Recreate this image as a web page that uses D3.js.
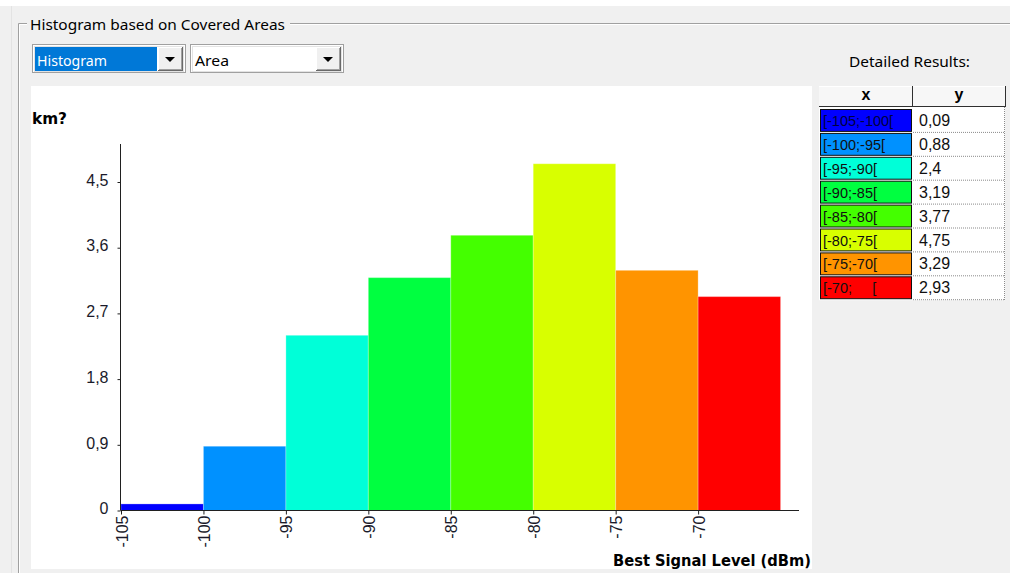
<!DOCTYPE html>
<html><head><meta charset="utf-8">
<script src="https://cdn.jsdelivr.net/npm/d3@7"></script>
<style>html,body{margin:0;padding:0;background:#f0f0f0;overflow:hidden}svg{display:block}</style>
</head><body>
<svg id="c" width="1010" height="573"></svg>
<script>
const binStarts = [-105, -100, -95, -90, -85, -80, -75, -70];
const binLabels = ["[-105;-100[", "[-100;-95[", "[-95;-90[", "[-90;-85[", "[-85;-80[", "[-80;-75[", "[-75;-70[", "[-70;     ["];
const values = [0.09, 0.88, 2.4, 3.19, 3.77, 4.75, 3.29, 2.93];
const valueLabels = ["0,09", "0,88", "2,4", "3,19", "3,77", "4,75", "3,29", "2,93"];
const colors = ["#0000ff", "#0091ff", "#00ffd8", "#00ff40", "#44ff00", "#d8ff00", "#ff9400", "#ff0000"];
const yTicks = [0, 0.9, 1.8, 2.7, 3.6, 4.5];
const xTicks = [-105, -100, -95, -90, -85, -80, -75, -70];
const binWidth = 5;

const svg = d3.select("#c");
const UI = "'Noto Sans','Open Sans',sans-serif";
const SANS = "'Liberation Sans',Arial,sans-serif";

// background
svg.append("rect").attr("x",0).attr("y",0).attr("width",1010).attr("height",573).attr("fill","#f0f0f0");
svg.append("rect").attr("x",0).attr("y",0).attr("width",1010).attr("height",6).attr("fill","#ffffff");

// group box (etched)
const gb = svg.append("g");
gb.append("path").attr("d","M18.5,573 V23.5 H27 M290,23.5 H1010").attr("fill","none").attr("stroke","#a0a0a0");
gb.append("path").attr("d","M19.5,573 V24.5 H27 M290,24.5 H1010").attr("fill","none").attr("stroke","#ffffff");
gb.append("line").attr("x1",11.5).attr("x2",11.5).attr("y1",6).attr("y2",573).attr("stroke","#e3e3e3");
svg.append("text").attr("x",30).attr("y",30).attr("font-family",UI).attr("font-size",15)
  .attr("fill","#000").attr("textLength",255).attr("lengthAdjust","spacingAndGlyphs")
  .text("Histogram based on Covered Areas");

// combo boxes
function combo(x, label, selected, textLen) {
  const g = svg.append("g");
  g.append("rect").attr("x",x).attr("y",44).attr("width",154).attr("height",29).attr("fill","#a0a0a0");
  g.append("rect").attr("x",x+1).attr("y",45).attr("width",152).attr("height",27).attr("fill","#ffffff");
  g.append("rect").attr("x",x+2).attr("y",46).attr("width",150).attr("height",26).attr("fill","#e3e3e3");
  g.append("rect").attr("x",x+3).attr("y",47).attr("width",148).attr("height",24).attr("fill","#ffffff");
  if (selected) g.append("rect").attr("x",x+3).attr("y",47).attr("width",122).attr("height",24).attr("fill","#0078d7");
  g.append("rect").attr("x",x+126).attr("y",47).attr("width",25).attr("height",24).attr("fill","#696969");
  g.append("rect").attr("x",x+126).attr("y",47).attr("width",24).attr("height",23).attr("fill","#ffffff");
  g.append("rect").attr("x",x+127).attr("y",48).attr("width",23).attr("height",22).attr("fill","#a0a0a0");
  g.append("rect").attr("x",x+127).attr("y",48).attr("width",22).attr("height",21).attr("fill","#f0f0f0");
  const cx = x+138;
  g.append("path").attr("d",`M${cx-5},57 H${cx+5} L${cx},62 Z`).attr("fill","#000");
  g.append("text").attr("x",x+5).attr("y",66).attr("font-family",UI).attr("font-size",15)
    .attr("fill", selected ? "#ffffff" : "#000").attr("textLength",textLen).attr("lengthAdjust","spacingAndGlyphs").text(label);
}
combo(32, "Histogram", true, 70);
combo(190, "Area", false, 34);

// chart panel
svg.append("rect").attr("x",31).attr("y",86).attr("width",781).attr("height",483).attr("fill","#ffffff");

const x = d3.scaleLinear().domain([-105, -63.9]).range([121, 798.7]);
const y = d3.scaleLinear().domain([0, 5]).range([510.5, 145.5]);

// bars
svg.append("g").selectAll("rect").data(values).join("rect")
  .attr("x",(d,i)=>x(binStarts[i]))
  .attr("width",(d,i)=>x(binStarts[i]+binWidth)-x(binStarts[i]))
  .attr("y",d=>y(d))
  .attr("height",d=>y(0)-y(d))
  .attr("fill",(d,i)=>colors[i])
  .attr("stroke","rgba(255,255,255,0.25)").attr("stroke-width",1);

// y axis
const yAxis = d3.axisLeft(y).tickValues(yTicks).tickSize(3).tickPadding(9)
  .tickFormat(d=>d3.format(".1~f")(d).replace(".",","));
const gy = svg.append("g").attr("transform","translate(120.5,0)").call(yAxis);
gy.select(".domain").attr("d","M0,144V510.5").attr("stroke","#202020");
gy.selectAll(".tick line").attr("stroke","#202020");
gy.selectAll(".tick text").attr("font-family",SANS).attr("font-size",16).attr("fill","#1a1a2a").attr("dy","0.2em");

// x axis
const xAxis = d3.axisBottom(x).tickValues(xTicks).tickSize(4).tickFormat(d=>String(d));
const gx = svg.append("g").attr("transform","translate(0,510.5)").call(xAxis);
gx.select(".domain").attr("d","M120.5,0H799").attr("stroke","#202020");
gx.selectAll(".tick line").attr("stroke","#202020");
gx.selectAll(".tick text").attr("font-family",SANS).attr("font-size",16).attr("fill","#1a1a2a")
  .attr("text-anchor","end").attr("y",0).attr("dy",0)
  .attr("transform","translate(6,5) rotate(-90)");

// axis titles
svg.append("text").attr("x",32).attr("y",124).attr("font-family","'DejaVu Sans',Verdana,sans-serif").attr("font-weight","bold")
  .attr("font-size",15).attr("fill","#000").attr("textLength",35).attr("lengthAdjust","spacingAndGlyphs").text("km?");
svg.append("text").attr("x",811).attr("y",566).attr("text-anchor","end").attr("font-family","'DejaVu Sans',Verdana,sans-serif")
  .attr("font-weight","bold").attr("font-size",15).attr("fill","#000").attr("textLength",198).attr("lengthAdjust","spacingAndGlyphs")
  .text("Best Signal Level (dBm)");

// Detailed results table
svg.append("text").attr("x",849).attr("y",67).attr("font-family",UI).attr("font-size",15).attr("fill","#000")
  .attr("textLength",121).attr("lengthAdjust","spacingAndGlyphs").text("Detailed Results:");

const tX0 = 819, tX1 = 913, tX2 = 1005, hTop = 86, hBot = 107, rowTop = 109, rowH = 23.9;
const tg = svg.append("g");
tg.append("rect").attr("x",tX0).attr("y",hTop).attr("width",tX2-tX0).attr("height",hBot-hTop).attr("fill","#f7f7f7");
tg.append("line").attr("x1",tX0).attr("x2",tX2).attr("y1",hTop+0.5).attr("y2",hTop+0.5).attr("stroke","#ffffff");
tg.append("line").attr("x1",tX0).attr("x2",tX2+1).attr("y1",hBot-0.5).attr("y2",hBot-0.5).attr("stroke","#303030");
tg.append("line").attr("x1",tX1-0.5).attr("x2",tX1-0.5).attr("y1",hTop).attr("y2",hBot).attr("stroke","#303030");
tg.append("line").attr("x1",tX2+0.5).attr("x2",tX2+0.5).attr("y1",hTop).attr("y2",hBot).attr("stroke","#303030");
tg.append("text").attr("x",(tX0+tX1)/2).attr("y",100).attr("text-anchor","middle").attr("font-family",SANS)
  .attr("font-weight","bold").attr("font-size",16).attr("fill","#000").text("x");
tg.append("text").attr("x",(tX1+tX2)/2).attr("y",100).attr("text-anchor","middle").attr("font-family",SANS)
  .attr("font-weight","bold").attr("font-size",16).attr("fill","#000").text("y");
tg.append("rect").attr("x",tX0).attr("y",hBot).attr("width",tX2-tX0).attr("height",rowTop+rowH*values.length-hBot).attr("fill","#ffffff");

const rows = tg.selectAll("g.row").data(values).join("g").attr("class","row")
  .attr("transform",(d,i)=>`translate(0,${rowTop+i*rowH})`);
rows.append("rect").attr("x",tX0+1.5).attr("y",0.5).attr("width",tX1-tX0-3).attr("height",rowH-2)
  .attr("fill",(d,i)=>colors[i]).attr("stroke","#101010").attr("stroke-width",1);
rows.append("text").attr("x",tX0+4).attr("y",17).attr("font-family",SANS).attr("font-size",14.5)
  .attr("fill",(d,i)=> i===0 ? "#000040" : "#101010")
  .attr("xml:space","preserve").style("white-space","pre").text((d,i)=>binLabels[i]);
rows.append("text").attr("x",tX1+6).attr("y",17).attr("font-family",SANS).attr("font-size",16)
  .attr("fill","#101010").text((d,i)=>valueLabels[i]);
rows.append("line").attr("x1",tX1).attr("x2",tX2).attr("y1",rowH-0.5).attr("y2",rowH-0.5)
  .attr("stroke","#8a8a8a").attr("stroke-dasharray","1,1");
tg.append("line").attr("x1",tX2-0.5).attr("x2",tX2-0.5).attr("y1",hBot).attr("y2",rowTop+rowH*values.length)
  .attr("stroke","#8a8a8a").attr("stroke-dasharray","1,1");
</script>
</body></html>
